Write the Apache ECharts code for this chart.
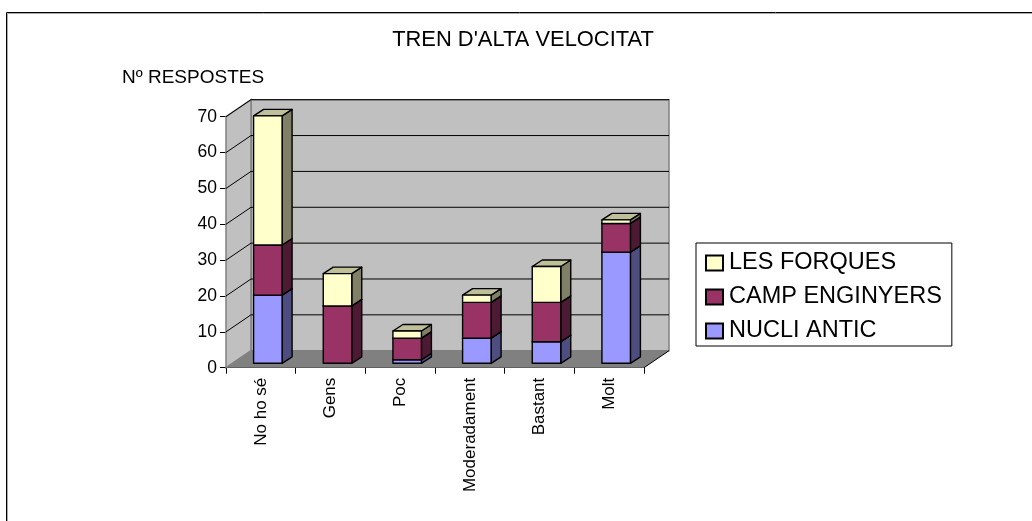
<!DOCTYPE html>
<html><head><meta charset="utf-8"><style>html,body{margin:0;padding:0;background:#fff}#c{width:1032px;height:521px}</style>
<script src="https://cdn.jsdelivr.net/npm/echarts@6/dist/echarts.min.js"></script></head>
<body><div id="c"></div><script>
const categories=['No ho sé','Gens','Poc','Moderadament','Bastant','Molt'];
const nucliAntic=[19,0,1,7,6,31];
const campEnginyers=[14,16,6,10,11,8];
const lesForques=[36,9,2,2,10,1];
const yTicks=[0,10,20,30,40,50,60,70];
const F='"Liberation Sans",Arial,sans-serif';
const WALL_DX=25,WALL_DY=-17,BAR_DX=7,BAR_DY=-4.4,SIDE_DX=10,SIDE_DY=-6.5,BAR_W=28.5;

function wallItem(params,api){
  const a=params.coordSys, x0=a.x,x1=a.x+a.width;
  const y0=api.coord([0,0])[1];
  const yTop=api.coord([0,70])[1];
  return {type:'group',children:[
    {type:'polygon',shape:{points:[[x0+WALL_DX,yTop+WALL_DY],[x1+WALL_DX,yTop+WALL_DY],[x1+WALL_DX,y0+WALL_DY],[x0+WALL_DX,y0+WALL_DY]]},style:{fill:'#C0C0C0',stroke:'#808080',lineWidth:1.5}},
    {type:'polygon',shape:{points:[[x0,yTop],[x0+WALL_DX,yTop+WALL_DY],[x0+WALL_DX,y0+WALL_DY],[x0,y0]]},style:{fill:'#C0C0C0',stroke:'#808080',lineWidth:1.5}},
    {type:'polygon',shape:{points:[[x0,y0],[x0+WALL_DX,y0+WALL_DY],[x1+WALL_DX,y0+WALL_DY],[x1,y0]]},style:{fill:'#808080'}},
    {type:'line',shape:{x1:x1,y1:y0,x2:x1+WALL_DX,y2:y0+WALL_DY},style:{stroke:'#000',lineWidth:1}}
  ]};
}
function gridItem(params,api){
  const a=params.coordSys, x0=a.x,x1=a.x+a.width;
  const y=api.coord([0,api.value(0)])[1];
  return {type:'polyline',shape:{points:[[x0,y],[x0+WALL_DX,y+WALL_DY],[x1+WALL_DX,y+WALL_DY]]},style:{fill:'none',stroke:'#000',lineWidth:1}};
}
function shade(c,f){const n=parseInt(c.slice(1),16);return 'rgb('+[(n>>16)&255,(n>>8)&255,n&255].map(v=>Math.round(v*f)).join(',')+')';}
function barItem(params,api){
  const lo=api.value(1),hi=api.value(2);
  if(hi<=lo) return null;
  const cx=api.coord([api.value(0),0])[0]+BAR_DX;
  const yb=api.coord([0,lo])[1]+BAR_DY, yt=api.coord([0,hi])[1]+BAR_DY;
  const l=cx-BAR_W/2,r=cx+BAR_W/2,c=api.visual('color');
  const st=f=>({fill:f,stroke:'#000',lineWidth:1.4,lineJoin:'round'});
  return {type:'group',children:[
    {type:'polygon',shape:{points:[[r,yb],[r+SIDE_DX,yb+SIDE_DY],[r+SIDE_DX,yt+SIDE_DY],[r,yt]]},style:st(shade(c,.5))},
    {type:'polygon',shape:{points:[[l,yt],[l+SIDE_DX,yt+SIDE_DY],[r+SIDE_DX,yt+SIDE_DY],[r,yt]]},style:st(shade(c,.75))},
    {type:'polygon',shape:{points:[[l,yb],[r,yb],[r,yt],[l,yt]]},style:st(c)}
  ]};
}
function stacked(vals,prevs){
  return vals.map((v,i)=>{const base=prevs.reduce((s,p)=>s+p[i],0);return [i,base,base+v];});
}
const barSeries=[
  {name:'NUCLI ANTIC',color:'#9999FF',vals:nucliAntic,prev:[]},
  {name:'CAMP ENGINYERS',color:'#993366',vals:campEnginyers,prev:[nucliAntic]},
  {name:'LES FORQUES',color:'#FFFFCC',vals:lesForques,prev:[nucliAntic,campEnginyers]}
].map(s=>({type:'custom',name:s.name,renderItem:barItem,itemStyle:{color:s.color,borderColor:'#000',borderWidth:1},
  data:stacked(s.vals,s.prev),encode:{x:0,y:2},z:5,clip:false,silent:true,animation:false}));

const chart=echarts.init(document.getElementById('c'),null,{renderer:'canvas'});
chart.setOption({
  animation:false,
  backgroundColor:'#fff',
  textStyle:{fontFamily:F},
  title:[
    {text:"TREN D'ALTA VELOCITAT",left:523,top:29,padding:0,textAlign:'center',textStyle:{fontFamily:F,fontSize:21.9,fontWeight:'normal',color:'#000'}},
    {text:'Nº RESPOSTES',left:122,top:68,padding:0,textStyle:{fontFamily:F,fontSize:19,fontWeight:'normal',color:'#000'}}
  ],
  grid:{left:226,top:116.7,width:418,height:251,containLabel:false},
  xAxis:{type:'category',data:categories,boundaryGap:true,
    axisLine:{show:true,lineStyle:{color:'#000',width:1}},
    axisTick:{show:true,length:6,alignWithLabel:false,lineStyle:{color:'#000'}},
    axisLabel:{rotate:90,interval:0,fontFamily:F,fontSize:17,color:'#000',margin:10,padding:[0,0,4,0]},
    splitLine:{show:false}},
  yAxis:{type:'value',min:0,max:70,interval:10,
    axisLine:{show:true,lineStyle:{color:'#000',width:1}},
    axisTick:{show:true,length:6,lineStyle:{color:'#000'}},
    axisLabel:{fontFamily:F,fontSize:17.5,color:'#000',margin:9},
    splitLine:{show:false}},
  legend:{orient:'vertical',left:696,top:243,padding:[5,10,0,9],itemGap:4,
    itemWidth:17,itemHeight:15,borderColor:'#000',borderWidth:1,
    data:['LES FORQUES','CAMP ENGINYERS','NUCLI ANTIC'],icon:'rect',
    textStyle:{fontFamily:F,fontSize:23.5,lineHeight:24,color:'#000',padding:[6,0,0,1]}},
  series:[
    {type:'custom',silent:true,renderItem:wallItem,data:[[0]],z:1,clip:false,animation:false,encode:{y:0},legendHoverLink:false},
    {type:'custom',silent:true,renderItem:gridItem,data:yTicks.slice(1).map(v=>[v]),z:2,clip:false,animation:false,encode:{y:0}},
    ...barSeries
  ],
  graphic:[
    {type:'polyline',shape:{points:[[7.5,521],[7.5,13.5],[1032,13.5]]},style:{fill:'none',stroke:'#aaaaaa',lineWidth:1},z:-2},
    {type:'polyline',shape:{points:[[6.5,521],[6.5,12.5],[1032,12.5]]},style:{fill:'none',stroke:'#000',lineWidth:1},z:-1}
  ]
});
</script></body></html>
